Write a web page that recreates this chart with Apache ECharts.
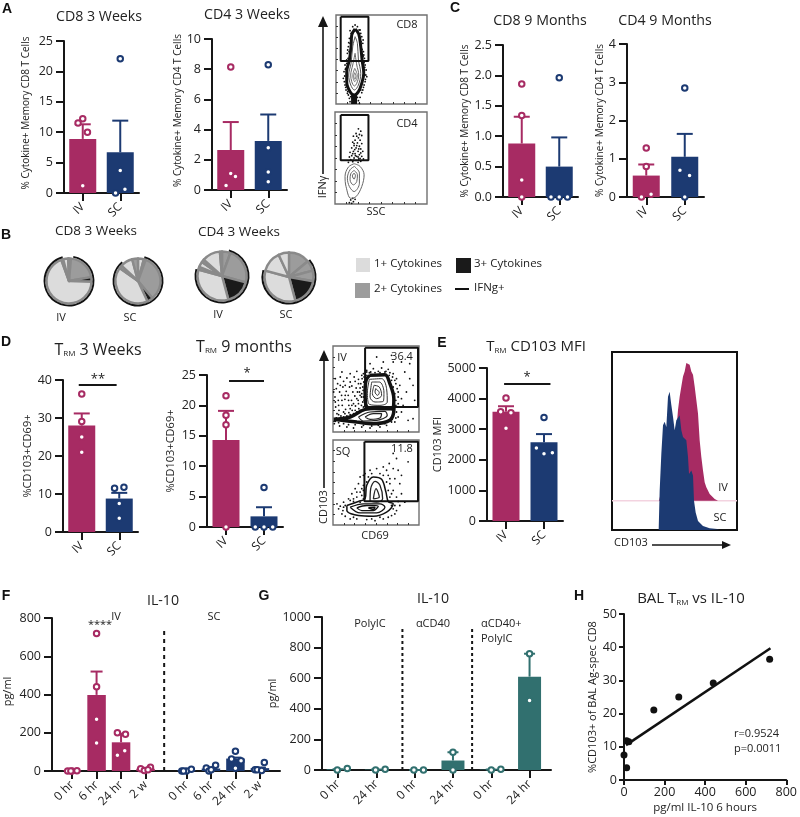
<!DOCTYPE html>
<html><head><meta charset="utf-8">
<style>html,body{margin:0;padding:0;background:#fff}#c{width:800px;height:817px}</style>
<script src="https://cdn.jsdelivr.net/npm/echarts@6/dist/echarts.min.js"></script>
</head><body><div id="c"></div>
<script>
const MAG='#A72B63', NAVY='#1C3A72', TEAL='#31706F', INK='#161616';
const PAIR_X=[0,1], PAIR_LABELS=['IV','SC'];

// Panel A
const A1_MEAN=[8.9,6.7], A1_TOP=[11.3,11.9];
const A1_IV=[[0,1.2],[0.125,10],[-0.125,11.5],[0,12.2]];
const A1_SC=[[1,22.1],[1,3.7],[1.125,0.6],[0.875,0]];
const A2_MEAN=[2.65,3.25], A2_TOP=[4.5,5];
const A2_IV=[[0,8.15],[0,1.1],[0.125,0.9],[-0.125,0.3]];
const A2_SC=[[1,8.3],[1,2.8],[1,1.2],[1,0.55]];
// Panel C
const C1_MEAN=[0.88,0.5], C1_TOP=[1.32,0.98];
const C1_IV=[[0,1.86],[0,1.34],[0,0.28],[0,0]];
const C1_SC=[[1,1.96],[0.78,0],[1,0],[1.22,0]];
const C2_MEAN=[0.56,1.05], C2_TOP=[0.85,1.65];
const C2_IV=[[0,1.28],[0,0.8],[0.125,0.07],[-0.125,0]];
const C2_SC=[[1,2.85],[0.875,0.7],[1.125,0.56],[1,0]];
// Panel D
const D1_MEAN=[28,8.8], D1_TOP=[31.2,10.3];
const D1_IV=[[0,36.3],[0,29.1],[0,25],[0,21]];
const D1_SC=[[0.875,11.5],[1.125,11.8],[1,7.5],[1,3.6]];
const D2_MEAN=[14.3,1.75], D2_TOP=[19.1,3.25];
const D2_IV=[[0,21.6],[0,18.4],[0,16.8],[0,0]];
const D2_SC=[[1,6.5],[0.77,0],[1,0],[1.23,0]];
// Panel E
const E_MEAN=[3570,2570], E_TOP=[3750,2840];
const E_IV=[[0,4020],[-0.14,3570],[0.13,3540],[0,3030]];
const E_SC=[[1,3380],[0.8,2385],[1,2200],[1.22,2233]];
// Panel F
const F_X=[0,1,2,3,4.67,5.67,6.67,7.67];
const F_LABELS=['0 hr','6 hr','24 hr','2 w','0 hr','6 hr','24 hr','2 w'];
const F_MEAN=[3,398,150,12,4,13,65,15];
const F_TOP=[3,520,195,14,5,16,70,18];
const F_IV=[[-0.18,0],[0,0],[0.2,1],[-0.05,0],[0.85,719],[1,441],[1,270],[1,146],[1.85,200],[2.18,192],[2.15,106],[1.85,82],[2.8,12],[2.95,2],[3.2,19],[3.1,7]];
F_IV[4]=[1,719];
const F_SC=[[4.48,0],[4.67,0],[4.87,9],[4.55,0],[5.48,16],[5.59,0],[5.86,30],[5.68,7],[6.67,103],[6.51,63],[6.9,54],[6.67,14],[7.85,44],[7.47,7],[7.56,7],[7.74,3]];
// Panel G
const G_X=[0,1,2,3,4,5];
const G_LABELS=['0 hr','24 hr','0 hr','24 hr','0 hr','24 hr'];
const G_MEAN=[5,3,0,62,3,610];
const G_TOP=[5,3,0,116,3,760];
const G_PTS=[[-0.02,0],[0.24,10],[0.98,0],[1.23,5],[1.98,0],[2.23,0],[3,116],[3,0],[4,0],[4.25,5],[5,760],[5,454]];
// Panel H
const H_PTS=[[718,36.4],[440,29.2],[270,25],[147,21.1],[24,11.5],[13,11.8],[0,7.5],[13,3.7]];
const H_FIT=[[10,10.5],[722,39.7]];
// Panel B pies: slice sizes in degrees clockwise from 12 o'clock, and the IFNg arc
const PIE_LIGHT='#DCDCDC', PIE_MID='#9C9C9C', PIE_DARK='#1A1A1A';
const P1=[['m',5],['m',75],['d',12],['l',248],['m',5],['l',13],['m',2]];
const P2=[['l',15],['m',5],['m',120],['d',15],['l',150],['m',8],['l',32],['m',15]];
const P3=[['m',20],['m',85],['d',60],['l',120],['m',7],['l',13],['m',7],['l',43],['m',5]];
const P4=[['m',50],['m',25],['m',25],['d',65],['l',120],['l',50],['l',25]];
const ARC1=[10,345], ARC2=[15,320], ARC3=[15,285], ARC4=[50,285];

// Flow plots (coordinates)
const FA1_RINGS=[
 {w:3,c:'#111',p:[[75,57],[86,72],[92,110],[96,150],[101,190],[95,220],[85,245],[73,255],[60,245],[50,215],[50,185],[58,150],[63,110],[65,75],[75,57]]},
 {w:1,c:'#555',p:[[75,80],[82,100],[85,150],[92,190],[85,225],[73,240],[62,225],[56,195],[63,160],[68,110],[75,80]]},
 {w:1,c:'#666',p:[[75,130],[80,165],[86,195],[80,220],[73,228],[65,215],[62,195],[68,165],[75,130]]},
 {w:1,c:'#777',p:[[74,175],[82,197],[74,215],[68,197],[74,175]]},
 {w:1,c:'#777',p:[[74,188],[78,198],[74,208],[71,198],[74,188]]},
 {w:6,c:'#111',p:[[72,255],[72,282]]}];
const FA1_DOTS=[[75,45],[82,50],[68,50],[90,60],[60,62],[95,80],[58,85],[98,100],[55,110],[100,125],[52,130],[103,145],[50,150],[105,165],[45,165],[108,180],[42,185],[110,200],[40,205],[105,215],[45,225],[100,232],[48,240],[95,248],[55,255],[90,262],[58,265],[85,272],[60,275],[88,280],[92,70],[99,90],[56,98],[53,120],[101,135],[47,175],[107,195],[43,215],[98,240],[52,250],[87,60],[63,70],[93,95],[60,100],[96,118],[57,125],[99,140],[54,145],[102,158],[50,160],[104,172],[46,178],[106,208],[44,198],[102,225],[47,232],[92,240],[53,245],[82,262],[62,260]];
const FA2_RINGS=[
 {w:1,c:'#666',p:[[72,462],[90,470],[102,495],[95,530],[78,560],[62,565],[48,530],[45,500],[55,472],[72,462]]},
 {w:1,c:'#666',p:[[73,470],[88,490],[88,520],[72,545],[58,530],[52,505],[60,480],[73,470]]},
 {w:1,c:'#666',p:[[72,482],[82,495],[80,515],[70,525],[60,510],[62,492],[72,482]]},
 {w:1,c:'#555',p:[[72,490],[76,497],[72,508],[67,498],[72,490]]}];
const FA2_DOTS=[[85,358],[92,365],[78,372],[95,378],[70,380],[85,385],[90,392],[75,392],[68,398],[82,400],[95,402],[72,408],[88,410],[65,415],[78,415],[92,418],[70,425],[84,425],[60,428],[98,425],[75,432],[88,435],[65,438],[80,440],[95,440],[58,442],[72,445],[86,448],[100,448],[62,450],[78,452],[92,455],[68,456],[84,458],[55,458],[62,570],[70,575],[58,578],[68,565],[75,568],[65,580],[80,380],[88,375],[72,402],[80,408],[86,418],[74,420],[68,432],[92,430],[76,438],[84,442],[70,452],[90,446]];
const FD1_RINGS=[
 {w:3.5,c:'#111',p:[[118,100],[165,98],[180,125],[192,170],[188,200],[150,200],[110,195],[105,150],[108,115],[118,100]]},
 {w:3.5,c:'#111',p:[[10,232],[60,225],[105,202],[170,197],[192,205],[180,235],[130,245],[80,240],[10,232]]},
 {w:1,c:'#333',p:[[118,112],[155,110],[170,140],[172,180],[150,190],[118,187],[112,150],[118,112]]},
 {w:1,c:'#333',p:[[125,120],[148,120],[162,150],[160,178],[135,180],[120,165],[125,120]]},
 {w:1,c:'#333',p:[[132,130],[148,135],[155,160],[140,170],[127,155],[132,130]]},
 {w:1,c:'#333',p:[[137,140],[148,152],[143,160],[135,150],[137,140]]},
 {w:1.2,c:'#222',p:[[85,225],[120,210],[165,208],[172,220],[140,235],[100,237],[85,225]]},
 {w:1.2,c:'#222',p:[[105,225],[130,215],[155,215],[150,228],[120,232],[105,225]]}];
const FD1_DOTS=[[15,110],[22,125],[30,105],[40,118],[50,108],[60,120],[72,105],[85,112],[95,100],[18,140],[28,150],[38,135],[48,148],[58,135],[68,150],[78,138],[88,150],[98,135],[14,165],[24,175],[34,160],[44,172],[54,160],[64,175],[74,162],[84,175],[94,165],[16,195],[26,205],[36,190],[46,202],[56,190],[66,205],[76,192],[86,200],[20,215],[32,222],[44,215],[56,212],[12,245],[28,252],[50,255],[70,258],[95,255],[120,258],[150,255],[170,250],[195,240],[205,225],[215,210],[205,150],[210,130],[200,110],[190,95],[175,82],[155,78],[130,80],[110,85],[215,170],[220,190],[198,125],[188,105],[168,88],[145,88],[122,90],[100,95],[92,125],[90,160],[98,180],[195,200],[205,185],[230,150],[240,110],[225,90],[215,60],[190,60],[160,60],[240,65],[250,130],[255,175],[235,235],[250,230],[120,65],[140,45],[185,40],[80,88],[60,95],[35,90],
 [96,110],[101,120],[99,145],[95,155],[100,165],[102,175],[94,190],[100,195],[90,205],[80,210],[70,215],[60,218],[50,222],[40,225],[30,228],[18,228],[15,238],[25,242],[40,245],[55,248],[75,248],[100,250],[125,252],[145,250],[165,245],[185,240],[198,228],[200,210],[198,190],[198,175],[195,155],[190,135],[185,115],[178,100],[165,90],[150,92],[135,92],[118,92],[108,100],[102,105],[110,90],[180,92],[195,115],[202,140],[205,165],[210,195],[85,125],[82,150],[85,185],[75,205],[65,190],[55,175],[45,160],[35,175],[25,190],[15,180],[10,150],[30,130],[45,130],[65,132],[75,118],[90,138],[80,170],[70,185],[60,200],[40,210],[25,218]];
const FD2_RINGS=[
 {w:1.5,c:'#111',p:[[50,490],[85,478],[105,470],[110,430],[130,405],[155,412],[168,450],[175,478],[190,485],[170,510],[130,522],[85,520],[50,505],[50,490]]},
 {w:1.3,c:'#222',p:[[120,477],[122,440],[135,418],[150,430],[158,470],[140,480],[120,477]]},
 {w:1.3,c:'#222',p:[[130,470],[138,440],[148,465],[130,470]]},
 {w:1.3,c:'#111',p:[[60,495],[100,485],[150,485],[165,495],[140,512],[90,512],[60,495]]},
 {w:1.3,c:'#111',p:[[80,497],[110,490],[145,492],[130,505],[95,505],[80,497]]},
 {w:1.6,c:'#111',p:[[115,497],[135,495],[130,502],[115,497]]}];
const FD2_DOTS=[[190,335],[200,350],[178,365],[205,385],[190,380],[170,385],[150,395],[125,395],[105,395],[90,405],[175,400],[195,410],[210,425],[85,425],[95,440],[75,440],[180,425],[190,445],[200,465],[215,455],[65,455],[80,465],[55,470],[95,460],[40,480],[30,492],[20,485],[25,500],[35,515],[45,522],[60,530],[80,530],[110,532],[135,535],[160,530],[185,520],[200,505],[210,490],[190,500],[225,480],[70,470],[100,445],[120,385],[160,375],[140,380],[215,400],[180,410],[235,360],[110,420],[90,480],[60,475],[45,490],[150,525],[175,525],[195,515],[125,530],[70,525],[100,400],[115,405],[160,400],[170,420],[100,430],[175,445],[180,465],[90,450],[80,450],[70,478],[40,495],[38,505],[185,490],[195,490],[205,478],[100,470],[185,455]];

const series=[], grids=[], xAxes=[], yAxes=[], graphics=[];

function addGrid(l,t,r,b,extra){grids.push(Object.assign({left:l,top:t,width:r-l,height:b-t,containLabel:false},extra||{}));return grids.length-1;}

function errSeries(g,xs,means,tops,colors,cap){
  series.push({type:'custom',xAxisIndex:g,yAxisIndex:g,z:3,silent:true,clip:false,
    data:xs.map((x,i)=>[x,means[i],tops[i],i]),
    encode:{x:0,y:[1,2]},
    renderItem:(p,api)=>{
      const a=api.coord([api.value(0),api.value(1)]), b=api.coord([api.value(0),api.value(2)]);
      const st={stroke:colors[api.value(3)],lineWidth:2,fill:null};
      return {type:'group',children:[
        {type:'line',shape:{x1:a[0],y1:a[1],x2:b[0],y2:b[1]},style:st},
        {type:'line',shape:{x1:b[0]-cap,y1:b[1],x2:b[0]+cap,y2:b[1]},style:st}]};
    }});
}
function barPanel(o){
  const g=addGrid(o.box[0],o.box[1],o.box[2],o.box[3]);
  const xs=o.xs||PAIR_X, labels=o.labels||PAIR_LABELS;
  xAxes.push({type:'value',gridIndex:g,min:o.xMin===undefined?-0.5:o.xMin,max:o.xMax===undefined?1.5:o.xMax,
    splitLine:{show:false},axisLine:{onZero:false,lineStyle:{color:INK,width:2}},
    axisTick:{show:true,customValues:xs,length:o.xTick||8,lineStyle:{color:INK,width:2}},
    axisLabel:{customValues:xs,rotate:45,margin:o.xMargin||12,fontSize:o.xFont||12,color:'#222',hideOverlap:false,
      formatter:v=>labels[xs.indexOf(v)]||''}});
  yAxes.push({type:'value',gridIndex:g,min:0,max:o.yMax,interval:o.step,splitLine:{show:false},
    axisLine:{show:true,onZero:false,lineStyle:{color:INK,width:2}},
    axisTick:{show:true,length:o.yTick||8,lineStyle:{color:INK,width:2}},
    axisLabel:{margin:11,fontSize:12.5,color:'#222',formatter:v=>o.dec?v.toFixed(o.dec):String(v)},
    name:o.yName,nameLocation:'middle',nameGap:o.nameGap,
    nameTextStyle:{fontFamily:'"Open Sans"',fontSize:o.nameSize||10,color:'#222',padding:o.namePad||0}});
  const colors=xs.map((x,i)=>o.colors[i]);
  series.push({type:'bar',xAxisIndex:g,yAxisIndex:g,z:2,barWidth:o.barW||27,silent:true,
    data:xs.map((x,i)=>({value:[x,o.means[i]],itemStyle:{color:colors[i]}}))});
  errSeries(g,xs,o.means,o.tops,colors,o.cap||8);
  o.points.forEach(pt=>series.push({type:'scatter',xAxisIndex:g,yAxisIndex:g,z:4,silent:true,symbol:'circle',clip:false,
    symbolSize:o.dot||5.5,itemStyle:{color:'#fff',borderColor:pt.c,borderWidth:2,opacity:1},data:pt.d}));
  (o.lines||[]).forEach(L=>series.push({type:'line',xAxisIndex:g,yAxisIndex:g,z:2,silent:true,showSymbol:false,clip:false,
    lineStyle:{color:L.c||INK,width:L.w||2,type:L.dash||'solid'},data:L.d}));
  return g;
}

function T(text,x,y,o){o=o||{};
  graphics.push({type:'text',x,y,rotation:o.rot||0,silent:true,z:20,style:{text,fill:o.c||'#222',
    fontSize:o.s||11,fontFamily:o.f||'"Open Sans"',fontWeight:o.b?700:400,
    align:o.a||'center',verticalAlign:'middle',rich:o.rich}});}
function L(x1,y1,x2,y2,w,c){graphics.push({type:'line',silent:true,z:20,shape:{x1,y1,x2,y2},style:{stroke:c||INK,lineWidth:w||2}});}
function Tri(pts){graphics.push({type:'polygon',silent:true,z:20,shape:{points:pts},style:{fill:INK}});}
const TRM=(rest,s)=>({text:`{t|T}{r|RM}{t|${rest}}`,rich:{t:{fontSize:s,fontFamily:'"Open Sans"',fill:'#222'},r:{fontSize:8,fontFamily:'"Open Sans"',fill:'#222',verticalAlign:'bottom',padding:[6,0,0,0]}}});

// A
barPanel({box:[64,41,139,193],yMax:25,step:5,means:A1_MEAN,tops:A1_TOP,colors:[MAG,NAVY],points:[{c:MAG,d:A1_IV},{c:NAVY,d:A1_SC}],yName:'% Cytokine+ Memory CD8 T Cells',nameGap:33,namePad:[0,0,0,8]});
barPanel({box:[212,39,287,190],yMax:10,step:2,means:A2_MEAN,tops:A2_TOP,colors:[MAG,NAVY],points:[{c:MAG,d:A2_IV},{c:NAVY,d:A2_SC}],yName:'% Cytokine+ Memory CD4 T Cells',nameGap:27,namePad:[0,0,0,8]});
// C
barPanel({box:[503,45,578,197],yMax:2.5,step:0.5,dec:1,means:C1_MEAN,tops:C1_TOP,colors:[MAG,NAVY],points:[{c:MAG,d:C1_IV},{c:NAVY,d:C1_SC}],yName:'% Cytokine+ Memory CD8 T Cells',nameGap:30});
barPanel({box:[627,44,704,197],yMax:4,step:1,means:C2_MEAN,tops:C2_TOP,colors:[MAG,NAVY],points:[{c:MAG,d:C2_IV},{c:NAVY,d:C2_SC}],yName:'% Cytokine+ Memory CD4 T Cells',nameGap:22});
// D
barPanel({box:[63,380,138,532],yMax:40,step:10,means:D1_MEAN,tops:D1_TOP,colors:[MAG,NAVY],points:[{c:MAG,d:D1_IV},{c:NAVY,d:D1_SC}],yName:'%CD103+CD69+',nameSize:11,nameGap:30,lines:[{d:[[-0.08,38.7],[0.93,38.7]]}]});
barPanel({box:[207,375,283,527],yMax:25,step:5,means:D2_MEAN,tops:D2_TOP,colors:[MAG,NAVY],points:[{c:MAG,d:D2_IV},{c:NAVY,d:D2_SC}],yName:'%CD103+CD69+',nameSize:11,nameGap:31,lines:[{d:[[0.08,24],[1,24]]}]});
// E
barPanel({box:[487,368,563,521],yMax:5000,step:1000,means:E_MEAN,tops:E_TOP,colors:[MAG,NAVY],points:[{c:MAG,d:E_IV},{c:NAVY,d:E_SC}],yName:'CD103 MFI',nameSize:11,nameGap:38,lines:[{d:[[-0.05,4477],[1.17,4477]]}]});
// F
barPanel({box:[52,618,280,771],xMin:-0.82,xMax:8.49,yMax:800,step:200,xs:F_X,labels:F_LABELS,means:F_MEAN,tops:F_TOP,barW:18.5,cap:6,
  colors:[MAG,MAG,MAG,MAG,NAVY,NAVY,NAVY,NAVY],points:[{c:MAG,d:F_IV},{c:NAVY,d:F_SC}],yName:'pg/ml',nameSize:11,nameGap:39,namePad:[0,0,0,6],
  lines:[{d:[[3.76,0],[3.76,737]],dash:[4,4],w:2}]});
// G
barPanel({box:[322,617,551,770],xMin:-0.42,xMax:5.56,yMax:1000,step:200,xs:G_X,labels:G_LABELS,means:G_MEAN,tops:G_TOP,barW:23,cap:5.5,
  colors:G_X.map(()=>TEAL),points:[{c:TEAL,d:G_PTS}],yName:'pg/ml',nameSize:11,nameGap:38,
  lines:[{d:[[1.68,0],[1.68,928]],dash:[3,3],w:2},{d:[[3.5,0],[3.5,928]],dash:[3,3],w:2}]});
// H
{const g=addGrid(624,614,791,780);
 xAxes.push({type:'value',gridIndex:g,min:0,max:800,interval:200,splitLine:{show:false},axisLine:{onZero:false,lineStyle:{color:INK,width:2}},axisTick:{length:5,lineStyle:{color:INK,width:2}},axisLabel:{margin:6,fontSize:12.5,color:'#222',hideOverlap:false},
  name:'pg/ml IL-10 6 hours',nameLocation:'middle',nameGap:22,nameTextStyle:{fontSize:11.5,color:'#222',fontFamily:'"Open Sans"'}});
 yAxes.push({type:'value',gridIndex:g,min:0,max:50,interval:10,splitLine:{show:false},axisLine:{show:true,onZero:false,lineStyle:{color:INK,width:2}},axisTick:{show:true,length:5,lineStyle:{color:INK,width:2}},axisLabel:{margin:7,fontSize:12.5,color:'#222'},
  name:'%CD103+ of BAL Ag-spec CD8',nameLocation:'middle',nameGap:21,nameTextStyle:{fontSize:11,color:'#222',fontFamily:'"Open Sans"'}});
 series.push({type:'scatter',xAxisIndex:g,yAxisIndex:g,z:4,silent:true,symbolSize:7,clip:false,itemStyle:{color:'#111',opacity:1},data:H_PTS});
 series.push({type:'line',xAxisIndex:g,yAxisIndex:g,z:3,silent:true,showSymbol:false,lineStyle:{color:'#111',width:2.5},data:H_FIT});
}

// B pies
function pie(slices,arc,cx,cy,r){
  const col={l:PIE_LIGHT,m:PIE_MID,d:PIE_DARK};
  series.push({type:'pie',silent:true,animation:false,center:[cx,cy],radius:[0,r],startAngle:90,clockwise:true,z:2,label:{show:false},labelLine:{show:false},minShowLabelAngle:360,
    data:slices.map(s=>({value:s[1],itemStyle:{color:col[s[0]],borderColor:'#8A8A8A',borderWidth:2.4}}))});
  const span=((arc[1]-arc[0])+360)%360;
  series.push({type:'pie',silent:true,animation:false,center:[cx,cy],radius:[r+1.2,r+3],startAngle:90-arc[0],clockwise:true,z:3,label:{show:false},labelLine:{show:false},
    data:[{value:span,itemStyle:{color:'#111'}},{value:360-span,itemStyle:{color:'rgba(0,0,0,0)'}}]});
}
pie(P1,ARC1,69,281,22.5); pie(P2,ARC2,138,281,22.5); pie(P3,ARC3,222,276,24.5); pie(P4,ARC4,289,277,24.5);

// Flow panels
function flow(o){
  const g=addGrid(o.box[0],o.box[1],o.box[2],o.box[3],{show:true,borderColor:'#707070',borderWidth:1.4,backgroundColor:'#fff'});
  const ticks=(a,b,n)=>{const r=[];for(let i=1;i<n;i++)r.push(a+(b-a)*i/n);return r;};
  xAxes.push({type:'value',gridIndex:g,min:o.ext[0],max:o.ext[1],splitLine:{show:false},axisLine:{show:false,onZero:false},axisLabel:{show:false},
    axisTick:{show:true,inside:true,length:2,customValues:ticks(o.ext[0],o.ext[1],8),lineStyle:{color:'#333',width:1}}});
  yAxes.push({type:'value',gridIndex:g,inverse:true,min:o.ext[2],max:o.ext[3],splitLine:{show:false},axisLine:{show:false,onZero:false},axisLabel:{show:false},
    axisTick:{show:true,inside:true,length:2,customValues:ticks(o.ext[2],o.ext[3],8),lineStyle:{color:'#333',width:1}}});
  if(o.dots) series.push({type:'scatter',xAxisIndex:g,yAxisIndex:g,z:2,silent:true,symbolSize:1.8,itemStyle:{color:'#111',opacity:1},data:o.dots});
  (o.rings||[]).forEach(R=>series.push({type:'line',xAxisIndex:g,yAxisIndex:g,z:3,silent:true,showSymbol:false,smooth:0.35,lineStyle:{color:R.c,width:R.w},data:R.p}));
  if(o.gate){const q=o.gate;series.push({type:'line',xAxisIndex:g,yAxisIndex:g,z:4,silent:true,showSymbol:false,clip:false,lineStyle:{color:'#111',width:2},data:[[q[0],q[1]],[q[2],q[1]],[q[2],q[3]],[q[0],q[3]],[q[0],q[1]]]});}
  return g;
}
flow({box:[336,15,427,104],ext:[18,290,15,282],gate:[32,20,115,153],rings:FA1_RINGS,dots:FA1_DOTS});
flow({box:[335,112,427,204],ext:[15,290,308,582],gate:[32,317,115,452],rings:FA2_RINGS,dots:FA2_DOTS});
flow({box:[333,346,419,432],ext:[8,268,12,270],gate:[105,17,265,195],rings:FD1_RINGS,dots:FD1_DOTS});
flow({box:[333,440,419,525],ext:[8,268,295,548],gate:[103,300,265,477],rings:FD2_RINGS,dots:FD2_DOTS});

// E histogram
const HIST_IV=[[718,510],[770,300],[775,240],[780,200],[785,170],[790,140],[795,125],[800,100],[805,95],[810,105],[815,125],[820,135],[825,170],[830,210],[835,250],[840,330],[845,380],[850,420],[855,455],[860,470],[870,490],[885,505],[895,510]];
const HIST_SC=[[717,597],[720,480],[725,370],[730,285],[735,275],[740,290],[745,200],[750,185],[755,225],[760,260],[765,300],[770,270],[775,270],[780,255],[785,300],[790,320],[800,330],[805,380],[808,430],[815,420],[820,435],[823,510],[828,545],[835,570],[850,585],[870,592],[900,595],[905,597]];
{const g=addGrid(612,352,737,530,{show:true,borderColor:'#111',borderWidth:2,backgroundColor:'#fff'});
 xAxes.push({type:'value',gridIndex:g,min:577,max:952,show:false,splitLine:{show:false}});
 yAxes.push({type:'value',gridIndex:g,inverse:true,min:67,max:597,show:false,splitLine:{show:false}});
 series.push({type:'line',xAxisIndex:g,yAxisIndex:g,z:2,silent:true,showSymbol:false,lineStyle:{color:'#F3D3E0',width:1.5},data:[[577,510],[952,510]]});
 series.push({type:'line',xAxisIndex:g,yAxisIndex:g,z:3,silent:true,showSymbol:false,lineStyle:{width:0},itemStyle:{color:MAG},areaStyle:{color:MAG,opacity:1,origin:510},data:HIST_IV});
 series.push({type:'line',xAxisIndex:g,yAxisIndex:g,z:4,silent:true,showSymbol:false,lineStyle:{width:0},itemStyle:{color:NAVY},areaStyle:{color:NAVY,opacity:1,origin:597},data:HIST_SC});
}

// Text
const F14={s:14.2};
[['A',7,9],['B',6,235],['C',455,8],['D',6,342],['E',442,343],['F',6,596],['G',264,596],['H',579,596]].forEach(a=>T(a[0],a[1],a[2],{s:14,b:1,c:'#111',f:'"Liberation Sans"'}));
T('CD8 3 Weeks',99,17,F14);T('CD4 3 Weeks',247,15,F14);T('CD8 9 Months',540,21,F14);T('CD4 9 Months',665,21,F14);
T('CD8 3 Weeks',96,231,{s:13.5});T('CD4 3 Weeks',239,232,{s:13.5});
T('IV',61,318);T('SC',130,318);T('IV',218,315);T('SC',286,315);
// legend
const sw=(x,y,w,h,c)=>graphics.push({type:'rect',silent:true,z:20,shape:{x,y,width:w,height:h},style:{fill:c}});
sw(356,258,14,14,PIE_LIGHT);sw(456,258,15,15,PIE_DARK);sw(355,283,15,15,PIE_MID);L(455,289,469,289,2,'#111');
T('1+ Cytokines',374,264,{a:'left',s:11.5});T('3+ Cytokines',474,264,{a:'left',s:11.5});T('2+ Cytokines',374,289,{a:'left',s:11.5});T('IFNg+',474,288,{a:'left',s:11.5});
// flow A labels
T('CD8',407,25,{s:11});T('CD4',407,124,{s:11});T('SSC',376,212,{s:11});
T('IFNγ',323,187,{s:11,rot:Math.PI/2});L(323,26,323,174,1.6);Tri([[318,27],[328,27],[323,16]]);
// flow D labels
T('IV',342,358,{s:11});T('36.4',402,357,{s:11});T('SQ',343,452,{s:11});T('11.8',402,449,{s:11});T('CD69',375,536,{s:11});
T('CD103',324,507,{s:11,rot:Math.PI/2});L(324,360,324,488,1.6);Tri([[319,361],[329,361],[324,350]]);
// D / E titles
let t=TRM(' 3 Weeks',16);T(t.text,98,350,{rich:t.rich});
t=TRM(' 9 months',16);T(t.text,244,347,{rich:t.rich});
t=TRM(' CD103 MFI',15);T(t.text,536,347,{rich:t.rich});
T('**',98,379,{s:13});T('*',247,373,{s:13});T('*',527,377,{s:13});
T('IV',723,488,{s:11});T('SC',720,518,{s:11});T('CD103',631,543,{s:11});L(652,545,724,545,1.4);Tri([[722,541],[722,549],[731,545]]);
// F/G/H
T('IL-10',163,601,F14);T('IV',116,617,{s:11});T('SC',214,617,{s:11});T('****',100,625,{s:11});
T('IL-10',433,599,F14);T('PolyIC',370,624,{s:11});T('αCD40',433,624,{s:11});T('αCD40+',481,624,{s:11,a:'left'});T('PolyIC',481,639,{s:11,a:'left'});
t={text:'{t|BAL T}{r|RM}{t| vs IL-10}',rich:TRM('',15).rich};T(t.text,691,599,{rich:t.rich});
T('r=0.9524',734,734,{s:11,a:'left'});T('p=0.0011',734,749,{s:11,a:'left'});

const chart=echarts.init(document.getElementById('c'),null,{renderer:'canvas'});
chart.setOption({animation:false,backgroundColor:'#fff',textStyle:{fontFamily:'"Open Sans"'},tooltip:{show:false},
  grid:grids,xAxis:xAxes,yAxis:yAxes,series,graphic:{elements:graphics}});
</script></body></html>
